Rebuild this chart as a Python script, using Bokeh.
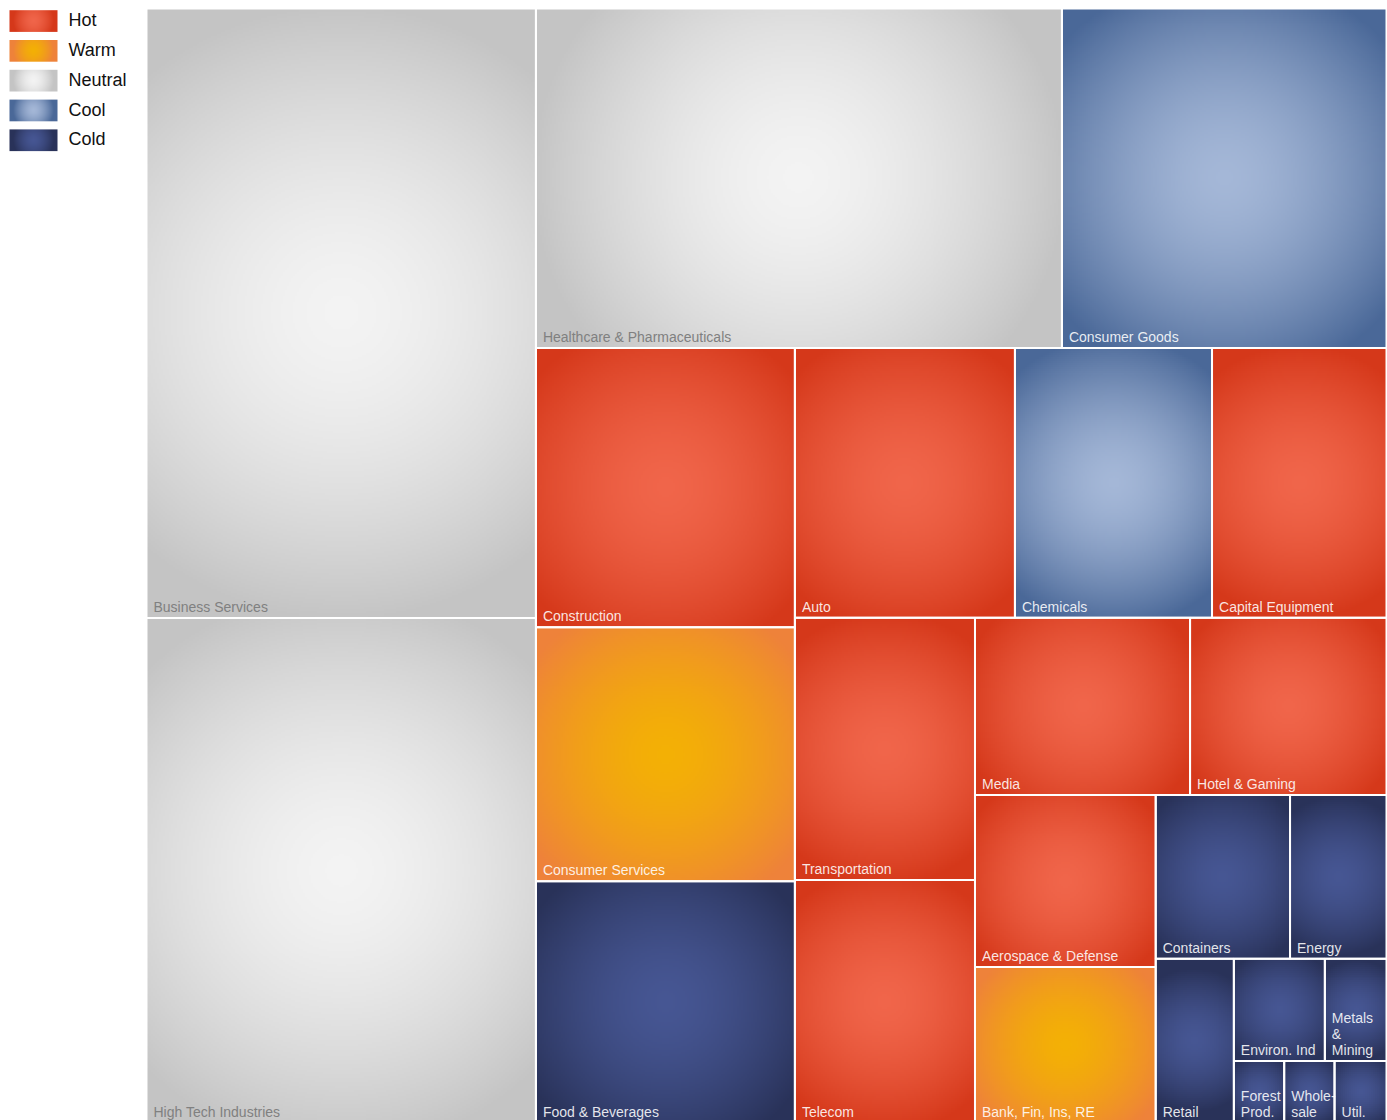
import numpy as np
from bokeh.plotting import figure
from bokeh.models import Range1d, ColumnDataSource
from bokeh.embed import file_html
from bokeh.resources import INLINE
from bokeh.core.properties import value

# ---------------- data ----------------
sectors = ["Business Services", "High Tech Industries", "Healthcare & Pharmaceuticals", "Consumer Goods",
           "Construction", "Consumer Services", "Food & Beverages",
           "Auto", "Chemicals", "Capital Equipment",
           "Transportation", "Telecom", "Media", "Hotel & Gaming",
           "Aerospace & Defense", "Bank, Fin, Ins, RE", "Containers", "Energy",
           "Retail", "Environ. Ind", "Metals\n&\nMining",
           "Forest\nProd.", "Whole-\nsale", "Util."]
sizes = [237.4, 196.5, 178.6, 110.2,
         72.3, 65.8, 62.5,
         59.4, 53.2, 47.1,
         47.2, 43.7, 38.1, 34.8,
         31.1, 28.1, 22.0, 15.8,
         12.8, 9.3, 6.3,
         3.1, 3.1, 3.2]
heat = ["Neutral", "Neutral", "Neutral", "Cool",
        "Hot", "Warm", "Cold",
        "Hot", "Cool", "Hot",
        "Hot", "Hot", "Hot", "Hot",
        "Hot", "Warm", "Cold", "Cold",
        "Cold", "Cold", "Cold",
        "Cold", "Cold", "Cold"]
legend_labels = ["Hot", "Warm", "Neutral", "Cool", "Cold"]

# squarified strips: number of items per strip and strip direction
strip_counts = [2, 2, 3, 3, 2, 2, 2, 2, 1, 2, 3]
strip_dirs = ["col", "row", "col", "row", "col", "row", "col", "row", "col", "row", "row"]

# ---------------- styles ----------------
center_col = {"Hot": (0xF0, 0x65, 0x4A), "Warm": (0xF3, 0xB0, 0x05), "Neutral": (0xF3, 0xF3, 0xF3),
              "Cool": (0xA4, 0xB7, 0xD7), "Cold": (0x46, 0x56, 0x93)}
edge_col = {"Hot": (0xD5, 0x38, 0x1A), "Warm": (0xEE, 0x82, 0x3A), "Neutral": (0xC4, 0xC4, 0xC4),
            "Cool": (0x4A, 0x68, 0x98), "Cold": (0x29, 0x32, 0x59)}

PAGE_W, PAGE_H = 1387, 1120


def dy(py):
    # page pixel y -> data y (data y grows upward)
    return PAGE_H - py


def radial_rgba(w, h, c0, c1, res=2.0):
    # soft circular gradient centred in the cell
    nx = max(2, int(np.ceil(w / res)))
    ny = max(2, int(np.ceil(h / res)))
    xs = (np.arange(nx) + 0.5) / nx * w - w / 2
    ys = (np.arange(ny) + 0.5) / ny * h - h / 2
    X, Y = np.meshgrid(xs, ys)
    r = 0.63 * np.sqrt(w * h)
    t = np.clip(np.hypot(X, Y) / r, 0, 1) ** 1.6
    img = np.empty((ny, nx, 4), dtype=np.uint8)
    for k in range(3):
        img[..., k] = np.round(c0[k] + (c1[k] - c0[k]) * t).astype(np.uint8)
    img[..., 3] = 255
    return np.ascontiguousarray(img).view(np.uint32).reshape(ny, nx)


def squarify_strips(vals, counts, dirs, x0, y0, x1, y1):
    scale = (x1 - x0) * (y1 - y0) / float(sum(vals))
    rects = []
    i = 0
    for n, d in zip(counts, dirs):
        gv = vals[i:i + n]
        i += n
        area = sum(gv) * scale
        if d == "col":
            w = area / (y1 - y0)
            top = y1
            for v in gv:
                h = v * scale / w
                rects.append((x0, top - h, x0 + w, top))
                top -= h
            x0 += w
        else:
            h = area / (x1 - x0)
            left = x0
            for v in gv:
                w = v * scale / h
                rects.append((left, y1 - h, left + w, y1))
                left += w
            y1 -= h
    return rects


p = figure(width=PAGE_W, height=PAGE_H, x_range=Range1d(0, PAGE_W), y_range=Range1d(0, PAGE_H),
           output_backend="svg", toolbar_location=None, min_border=0)
p.axis.visible = False
p.grid.visible = False
p.outline_line_color = None
p.background_fill_color = "white"
p.border_fill_color = "white"

# treemap area (page px): x 146..1386, y 8..1122
rects = squarify_strips(sizes, strip_counts, strip_dirs, 146, dy(1122), 1386, dy(8))

imgs, ix, iy, idw, idh = [], [], [], [], []
for (l, b, r, t), hname in zip(rects, heat):
    imgs.append(radial_rgba(r - l, t - b, center_col[hname], edge_col[hname]))
    ix.append(l); iy.append(b); idw.append(r - l); idh.append(t - b)
p.image_rgba(image=imgs, x=ix, y=iy, dw=idw, dh=idh)

p.quad(left=[r[0] for r in rects], bottom=[r[1] for r in rects], right=[r[2] for r in rects],
       top=[r[3] for r in rects], fill_color=None, line_color="white", line_width=2)

# labels
lx, ly, lt, lc, la = [], [], [], [], []
for (l, b, r, t), name, hname in zip(rects, sectors, heat):
    lines = name.split("\n")
    n = len(lines)
    for k, line in enumerate(lines):
        lx.append(l + 7)
        ly.append(b + 11 + (n - 1 - k) * 16)
        lt.append(line)
        if hname == "Neutral":
            lc.append("#808080"); la.append(1.0)
        else:
            lc.append("#ffffff"); la.append(0.88)
src = ColumnDataSource(dict(x=lx, y=ly, text=lt, color=lc, alpha=la))
p.text(x="x", y="y", text="text", source=src, text_color="color", text_alpha="alpha",
       text_font=value("Liberation Sans"), text_font_size="14px",
       text_baseline="alphabetic", text_align="left")

# legend
gx, gy, gw, gh, gimgs = [], [], [], [], []
tx, ty = [], []
for i, lab in enumerate(legend_labels):
    top = 9.7 + 29.8 * i
    gimgs.append(radial_rgba(48, 21.7, center_col[lab], edge_col[lab], res=1.0))
    gx.append(9); gy.append(dy(top + 21.7)); gw.append(48); gh.append(21.7)
    tx.append(68); ty.append(dy(top + 10))
p.image_rgba(image=gimgs, x=gx, y=gy, dw=gw, dh=gh)
p.text(x=tx, y=ty, text=legend_labels, text_color="#111111",
       text_font=value("Liberation Sans"), text_font_size="18px",
       text_baseline="middle", text_align="left")

open("out.html", "w").write(file_html(p, INLINE))
